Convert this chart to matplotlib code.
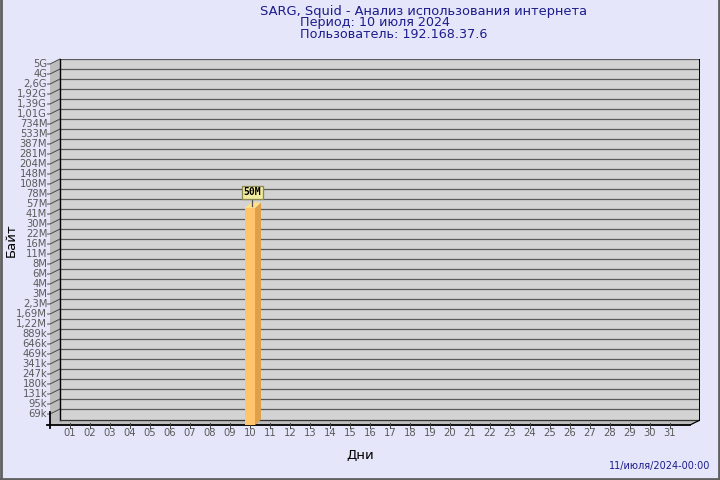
import numpy as np
import matplotlib
matplotlib.use("Agg")
import matplotlib.pyplot as plt
from matplotlib.patches import Polygon, Rectangle
from matplotlib.lines import Line2D

# ---- data ----
title_lines = ["SARG, Squid - Анализ использования интернета",
               "Период: 10 июля 2024",
               "Пользователь: 192.168.37.6"]
y_tick_labels = ["69k", "95k", "131k", "180k", "247k", "341k", "469k", "646k", "889k",
                 "1,22M", "1,69M", "2,3M", "3M", "4M", "6M", "8M", "11M", "16M", "22M",
                 "30M", "41M", "57M", "78M", "108M", "148M", "204M", "281M", "387M",
                 "533M", "734M", "1,01G", "1,39G", "1,92G", "2,6G", "4G", "5G"]
days = [f"{d:02d}" for d in range(1, 32)]
bar_days = [10]
bar_values = [50e6]
bar_labels = ["50M"]
footer = "11/июля/2024-00:00"


def parse(lbl):
    mult = {"k": 1e3, "M": 1e6, "G": 1e9}[lbl[-1]]
    return float(lbl[:-1].replace(",", ".")) * mult


tick_vals = np.array([parse(l) for l in y_tick_labels])
tick_pos = np.arange(len(y_tick_labels))

BG = "#e6e6fa"
NAVY = "#1c1c8c"
WALL = "#d3d3d3"
SIDE = "#bdbdbd"
GRID = "#5a5a5a"
TXT = "#5a5a5a"

fig = plt.figure(figsize=(7.2, 4.8), dpi=100, facecolor=BG)
W, H = 720, 480
DX, DY = 0.5, 0.5  # depth offset (10px, 5px)
y0 = -1.1
ytop = 35.0
xr = 32.0
ax = fig.add_axes([50 / W, (H - 425) / H, 650 / W, (ytop + DY - y0) * 10 / H])
ax.set_xlim(0, xr + DX)
ax.set_ylim(y0, ytop + DY)
ax.axis("off")
ax.set_facecolor("none")

# back wall
ax.add_patch(Rectangle((DX, y0 + DY), xr, ytop - y0, facecolor=WALL, edgecolor="none", zorder=1))
# left side wall
ax.add_patch(Polygon([(0, y0), (DX, y0 + DY), (DX, ytop + DY), (0, ytop)],
                     closed=True, facecolor=SIDE, edgecolor="none", zorder=1))
# floor
ax.add_patch(Polygon([(0, y0), (xr, y0), (xr + DX, y0 + DY), (DX, y0 + DY)],
                     closed=True, facecolor=SIDE, edgecolor="none", zorder=1))

# gridlines on back wall, ticks and labels
for p, lbl in zip(tick_pos, y_tick_labels):
    ax.add_line(Line2D([DX, xr + DX], [p + DY, p + DY], color=GRID, lw=0.9, zorder=2))
    ax.add_line(Line2D([-0.12, 0, DX], [p, p, p + DY], color="#4a4a4a", lw=0.7, zorder=3,
                       clip_on=False))
    ax.text(-0.14, p, lbl, ha="right", va="center", fontsize=7.2, color=TXT, clip_on=False)

# frame edges
ax.add_line(Line2D([DX, DX], [y0 + DY, ytop + DY], color="black", lw=1.0, zorder=3))
ax.add_line(Line2D([xr + DX, xr + DX], [y0 + DY, ytop + DY], color="black", lw=1.4, zorder=3))
ax.add_line(Line2D([DX, xr + DX], [y0 + DY, y0 + DY], color="#333333", lw=0.9, zorder=3))
ax.add_line(Line2D([-0.15, xr], [y0, y0], color="black", lw=1.3, zorder=4, clip_on=False))
ax.add_line(Line2D([xr, xr + DX], [y0, y0 + DY], color="black", lw=0.9, zorder=4))
ax.add_line(Line2D([0, 0], [y0 - 0.3, y0 + 1.3], color="black", lw=1.3, zorder=4, clip_on=False))

# x ticks and labels
for i, lbl in enumerate(days):
    d = i + 1
    ax.add_line(Line2D([d, d], [y0 - 0.3, y0 + 0.2], color="#444444", lw=0.7, zorder=4, clip_on=False))
    ax.text(d, y0 - 0.75, lbl, ha="center", va="center", fontsize=7.2, color=TXT, clip_on=False)

# bars
BW = 0.25
BDX, BDY = 0.3, 0.55
for d, v, lbl in zip(bar_days, bar_values, bar_labels):
    top = np.interp(np.log(v), np.log(tick_vals), tick_pos)
    ax.add_patch(Polygon([(d - BW, y0), (d + BW, y0), (d + BW, top), (d - BW, top)],
                         closed=True, facecolor="#ffc46c", edgecolor="none", zorder=5))
    ax.add_patch(Polygon([(d + BW, y0), (d + BW + BDX, y0 + BDY), (d + BW + BDX, top + BDY),
                          (d + BW, top)], closed=True, facecolor="#dfa04c", edgecolor="none", zorder=5))
    ax.add_patch(Polygon([(d - BW, top), (d + BW, top), (d + BW + BDX, top + BDY),
                          (d - BW + BDX, top + BDY)], closed=True, facecolor="#ffe08c",
                         edgecolor="none", zorder=5))
    ax.add_line(Line2D([d + 0.12, d + 0.12], [top + 0.2, top + 1.0], color="#555555", lw=0.9, zorder=6))
    ax.text(d + 0.12, top + 1.55, lbl, ha="center", va="center", fontsize=7, weight="bold",
            family="DejaVu Sans Mono", color="black", zorder=7,
            bbox=dict(boxstyle="square,pad=0.18", facecolor="#f2eca0", edgecolor="#8a8a50", lw=0.9))

# titles
fig.text(423 / W, 1 - 11 / H, title_lines[0], ha="center", va="center", fontsize=9.4, color=NAVY)
fig.text(300 / W, 1 - 22.5 / H, title_lines[1], ha="left", va="center", fontsize=9.2, color=NAVY)
fig.text(300 / W, 1 - 34 / H, title_lines[2], ha="left", va="center", fontsize=9.2, color=NAVY)
fig.text(11 / W, 1 - 240 / H, "Байт", rotation=90, ha="center", va="center", fontsize=9.5, color="black")
fig.text(360 / W, 1 - 455 / H, "Дни", ha="center", va="center", fontsize=9.5, color="black")
fig.text(710 / W, 1 - 466 / H, footer, ha="right", va="center", fontsize=7, color=NAVY)

# figure border (left, right, bottom)
for xs, ys in [([0.5, 0.5], [0, H]), ([W - 1.5, W - 1.5], [0, H]), ([0, W], [H - 1.5, H - 1.5])]:
    fig.add_artist(Line2D([x / W for x in xs], [1 - y / H for y in ys], color="#606060", lw=2,
                          transform=fig.transFigure))

fig.savefig("out.png", dpi=100, facecolor=BG)
